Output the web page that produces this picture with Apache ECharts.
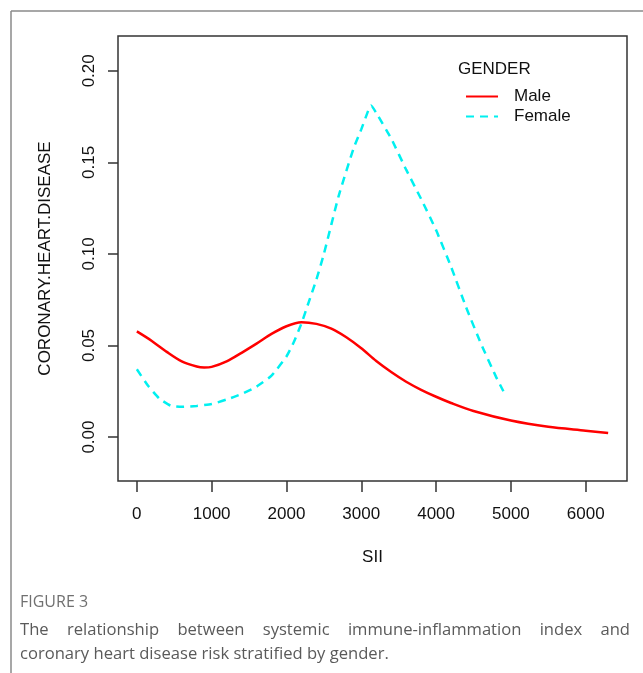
<!DOCTYPE html>
<html>
<head>
<meta charset="utf-8">
<script src="https://cdn.jsdelivr.net/npm/echarts@6/dist/echarts.min.js"></script>
<style>
  html, body { margin: 0; padding: 0; background: #fff; }
  #wrap { position: relative; width: 643px; height: 673px; overflow: hidden; }
  #chart { position: absolute; left: 0; top: 0; width: 643px; height: 673px; }
  #cap { position: absolute; left: 20px; top: 590px; width: 610px; font-family: 'Open Sans', sans-serif; color: #5a5a5a; }
  #cap .fig { font-size: 16px; color: #707070; line-height: 22px; margin-bottom: 5px; }
  #cap .txt { font-size: 16.6px; line-height: 23.5px; white-space: nowrap; }
  #cap .just { text-align: justify; text-align-last: justify; }
</style>
</head>
<body>
<div id="wrap">
  <div id="chart"></div>
  <div id="cap">
    <div class="fig">FIGURE 3</div>
    <div class="txt just">The relationship between systemic immune-inflammation index and</div>
    <div class="txt">coronary heart disease risk stratified by gender.</div>
  </div>
</div>
<script>
// ---- data ----
var seriesNames = ['Male', 'Female'];
var maleX = [0, 200, 400, 600, 800, 900, 1000, 1200, 1400, 1600, 1800, 2000, 2200, 2400, 2600, 2800, 3000, 3200, 3400, 3600, 3800, 4000, 4200, 4500, 5000, 5500, 6000, 6300];
var maleY = [0.0577, 0.0525, 0.0465, 0.0413, 0.0385, 0.0380, 0.0383, 0.0413, 0.0460, 0.0510, 0.0563, 0.0605, 0.0627, 0.0618, 0.0592, 0.0545, 0.0485, 0.0415, 0.0355, 0.0302, 0.0258, 0.0220, 0.0186, 0.0142, 0.0090, 0.0056, 0.0035, 0.0022];
var femaleX = [0, 150, 300, 450, 600, 800, 1000, 1200, 1400, 1600, 1800, 2000, 2100, 2200, 2300, 2400, 2500, 2700, 2900, 3000, 3100, 3130, 3200, 3400, 3600, 3800, 4000, 4200, 4400, 4600, 4800, 4900];
var femaleY = [0.037, 0.028, 0.021, 0.0172, 0.0165, 0.0170, 0.0180, 0.0205, 0.0235, 0.0275, 0.0335, 0.044, 0.052, 0.062, 0.074, 0.086, 0.100, 0.132, 0.158, 0.168, 0.179, 0.181, 0.177, 0.163, 0.146, 0.130, 0.113, 0.093, 0.071, 0.051, 0.033, 0.025];
var xTicks = [0, 1000, 2000, 3000, 4000, 5000, 6000];
var yTicks = [0, 0.05, 0.10, 0.15, 0.20];

function pairs(xs, ys) { return xs.map(function (x, i) { return [x, ys[i]]; }); }

var FONT = 'Liberation Sans, Arial, sans-serif';
var chart = echarts.init(document.getElementById('chart'), null, { renderer: 'canvas' });
chart.setOption({
  animation: false,
  backgroundColor: '#fff',
  grid: { left: 118, top: 36, right: 16, bottom: 192, show: true, borderColor: '#333', borderWidth: 1.5, backgroundColor: 'transparent' },
  xAxis: {
    type: 'value', min: -252, max: 6552,
    axisLine: { show: false, onZero: false },
    splitLine: { show: false },
    axisTick: { show: true, inside: false, length: 11, lineStyle: { color: '#333', width: 1.5 }, customValues: xTicks },
    axisLabel: { show: true, margin: 25, fontFamily: FONT, fontSize: 17, color: '#111', customValues: xTicks, formatter: function (v) { return String(v); } },
    name: 'SII', nameLocation: 'middle', nameGap: 68,
    nameTextStyle: { fontFamily: FONT, fontSize: 17, color: '#111' }
  },
  yAxis: {
    type: 'value', min: -0.024, max: 0.219,
    axisLine: { show: false, onZero: false },
    splitLine: { show: false },
    axisTick: { show: true, inside: false, length: 10, lineStyle: { color: '#333', width: 1.5 }, customValues: yTicks },
    axisLabel: { show: true, margin: 20, rotate: 90, fontFamily: FONT, fontSize: 17, color: '#111', customValues: yTicks, formatter: function (v) { return v.toFixed(2); } },
    name: 'CORONARY.HEART.DISEASE', nameLocation: 'middle', nameGap: 64,
    nameTextStyle: { fontFamily: FONT, fontSize: 17, color: '#111' }
  },
  legend: {
    left: 465, top: 88, orient: 'vertical', padding: 0,
    itemWidth: 32, itemHeight: 12, itemGap: 3,
    itemStyle: { opacity: 0 },
    textStyle: { fontFamily: FONT, fontSize: 17, color: '#111', padding: [0, 0, 0, 11] },
    data: seriesNames
  },
  graphic: [
    { type: 'line', shape: { x1: 11, y1: 11, x2: 643, y2: 11 }, style: { stroke: '#8a8a8a', lineWidth: 1.5 } },
    { type: 'line', shape: { x1: 11, y1: 11, x2: 11, y2: 673 }, style: { stroke: '#8a8a8a', lineWidth: 1.5 } },
    { type: 'text', left: 458, top: 61, style: { text: 'GENDER', font: '17px ' + FONT, fill: '#111' } }
  ],
  series: [
    {
      name: seriesNames[0], type: 'line', data: pairs(maleX, maleY),
      symbol: 'none', showSymbol: false, smooth: 0.3,
      lineStyle: { color: '#ff0000', width: 2.5 }, itemStyle: { color: '#ff0000' }
    },
    {
      name: seriesNames[1], type: 'line', data: pairs(femaleX, femaleY),
      symbol: 'none', showSymbol: false, smooth: 0.15,
      lineStyle: { color: '#00f0f0', width: 2.5, type: [8, 6] }, itemStyle: { color: '#00f0f0' }
    }
  ]
});
</script>
</body>
</html>
